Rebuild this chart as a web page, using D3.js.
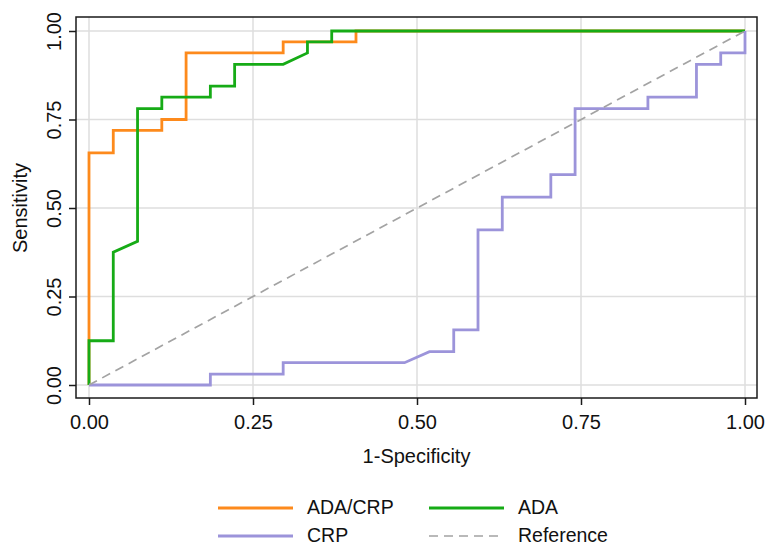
<!DOCTYPE html>
<html>
<head>
<meta charset="utf-8">
<script src="https://cdn.jsdelivr.net/npm/d3@7"></script>
<style>
  body { margin: 0; background: #fff; }
  svg { display: block; font-family: Arial, "Liberation Sans", sans-serif; }
</style>
</head>
<body>
<script>
// ROC points (1-specificity, sensitivity)
const adaCrpX = [0, 0, .037, .037, .111, .111, .148, .148, .296, .296, .407, .407, 1];
const adaCrpY = [0, .656, .656, .719, .719, .75, .75, .938, .938, .969, .969, 1, 1];

const adaX = [0, 0, .037, .037, .074, .074, .111, .111, .185, .185, .222, .222, .296, .333, .333, .370, .370, 1];
const adaY = [0, .125, .125, .375, .406, .781, .781, .813, .813, .844, .844, .906, .906, .938, .969, .969, 1, 1];

const crpX = [0, .185, .185, .296, .296, .481, .519, .556, .556, .593, .593, .630, .630, .704, .704, .741, .741, .852, .852, .926, .926, .963, .963, 1, 1];
const crpY = [0, 0, .031, .031, .063, .063, .094, .094, .156, .156, .438, .438, .531, .531, .594, .594, .781, .781, .813, .813, .906, .906, .938, .938, 1];

const refX = [0, 1];
const refY = [0, 1];

const tickValues = [0, .25, .5, .75, 1];
const seriesNames = ["ADA/CRP", "ADA", "CRP", "Reference"];

const width = 765, height = 546;

const svg = d3.select("body").append("svg")
    .attr("width", width)
    .attr("height", height);

const x = d3.scaleLinear().domain([0, 1]).range([89, 745]);
const y = d3.scaleLinear().domain([0, 1]).range([385, 31]);

const frame = { left: 76, right: 757, top: 17, bottom: 398 };

// grid
svg.append("g")
    .selectAll("line.vx")
    .data(tickValues)
    .join("line")
    .attr("x1", d => x(d)).attr("x2", d => x(d))
    .attr("y1", frame.top).attr("y2", frame.bottom)
    .attr("stroke", "#dedede").attr("stroke-width", 1.5);

svg.append("g")
    .selectAll("line.hy")
    .data(tickValues)
    .join("line")
    .attr("x1", frame.left).attr("x2", frame.right)
    .attr("y1", d => y(d)).attr("y2", d => y(d))
    .attr("stroke", "#dedede").attr("stroke-width", 1.5);

const series = [
  { name: seriesNames[0], xs: adaCrpX, ys: adaCrpY, color: "#fd8a1c", width: 2.8, dash: null },
  { name: seriesNames[1], xs: adaX, ys: adaY, color: "#16ab16", width: 2.8, dash: null },
  { name: seriesNames[2], xs: crpX, ys: crpY, color: "#9c94da", width: 2.8, dash: null },
  { name: seriesNames[3], xs: refX, ys: refY, color: "#a3a3a3", width: 1.7, dash: "9,6" }
];

const line = d3.line()
    .x(d => x(d[0]))
    .y(d => y(d[1]));

series.forEach(s => {
  svg.append("path")
      .datum(d3.zip(s.xs, s.ys))
      .attr("fill", "none")
      .attr("stroke", s.color)
      .attr("stroke-width", s.width)
      .attr("stroke-dasharray", s.dash)
      .attr("stroke-linejoin", "miter")
      .attr("d", line);
});

// frame
svg.append("rect")
    .attr("x", frame.left).attr("y", frame.top)
    .attr("width", frame.right - frame.left)
    .attr("height", frame.bottom - frame.top)
    .attr("fill", "none")
    .attr("stroke", "#1a1a1a")
    .attr("stroke-width", 1.5);

// axes
const xAxis = svg.append("g")
    .attr("transform", `translate(0,${frame.bottom})`)
    .call(d3.axisBottom(x).tickValues(tickValues).tickFormat(d3.format(".2f")).tickSize(7).tickPadding(10));

const yAxis = svg.append("g")
    .attr("transform", `translate(${frame.left},0)`)
    .call(d3.axisLeft(y).tickValues(tickValues).tickFormat(d3.format(".2f")).tickSize(7));

[xAxis, yAxis].forEach(g => {
  g.select(".domain").remove();
  g.selectAll(".tick line").attr("stroke", "#1a1a1a").attr("stroke-width", 1.5);
  g.selectAll(".tick text")
      .attr("fill", "#111")
      .style("font-size", "20px")
      .style("font-family", "Arial, 'Liberation Sans', sans-serif");
});

yAxis.selectAll(".tick text")
    .attr("x", null).attr("dy", null)
    .attr("text-anchor", "middle")
    .attr("transform", "translate(-15,0) rotate(-90)");

svg.append("text")
    .attr("x", (frame.left + frame.right) / 2)
    .attr("y", 463)
    .attr("text-anchor", "middle")
    .attr("fill", "#111")
    .style("font-size", "20px")
    .text("1-Specificity");

svg.append("text")
    .attr("transform", "translate(27,208) rotate(-90)")
    .attr("text-anchor", "middle")
    .attr("fill", "#111")
    .style("font-size", "20px")
    .text("Sensitivity");

// legend, two columns
const legendPos = [
  { lx: 218, ty: 508 },
  { lx: 429, ty: 508 },
  { lx: 218, ty: 536 },
  { lx: 429, ty: 536 }
];

const legend = svg.append("g")
    .selectAll("g")
    .data(series)
    .join("g")
    .attr("transform", (d, i) => `translate(${legendPos[i].lx},${legendPos[i].ty})`);

legend.append("line")
    .attr("x1", 0).attr("x2", 75)
    .attr("stroke", d => d.color)
    .attr("stroke-width", d => d.dash ? 1.7 : 2.8)
    .attr("stroke-dasharray", d => d.dash);

legend.append("text")
    .attr("x", 89)
    .attr("y", 6)
    .attr("fill", "#111")
    .style("font-size", "19.5px")
    .text(d => d.name);
</script>
</body>
</html>
